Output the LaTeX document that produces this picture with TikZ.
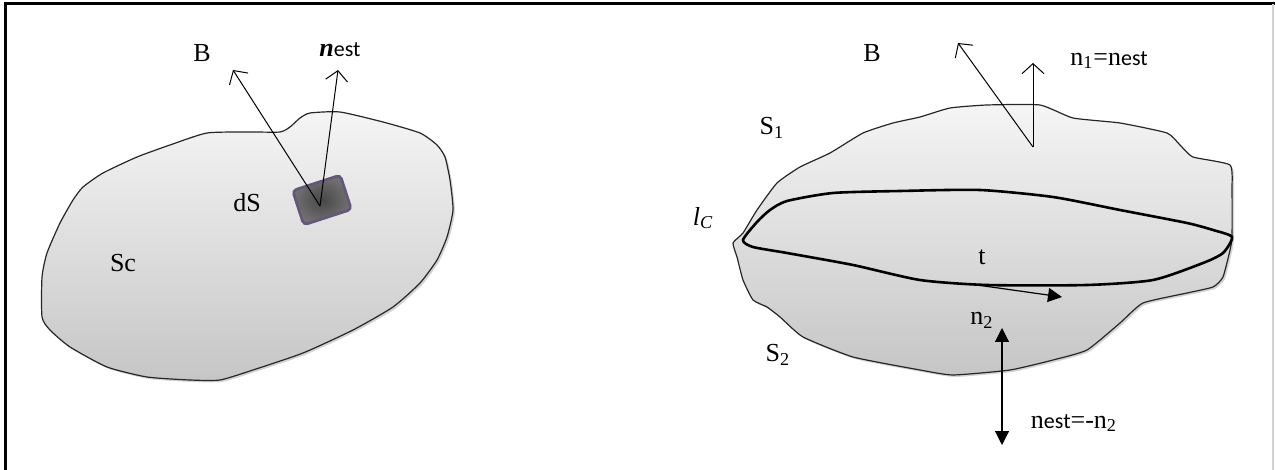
\documentclass[tikz,border=0pt]{standalone}
\usepackage{fontspec}
\setmainfont{Liberation Serif}
\setsansfont{Carlito}
\usepackage{tikz}
\usetikzlibrary{arrows.meta,shadows}
\definecolor{patchrim}{RGB}{100,88,122}
\newcommand{\estsub}{{\sffamily\fontsize{11}{13}\selectfont est}}

\begin{document}
\begin{tikzpicture}[x=0.5pt,y=-0.5pt,
  blob/.style={draw=black!85,line width=0.6pt,top color=gray!8,bottom color=gray!45,
    drop shadow={opacity=0.35,shadow xshift=1pt,shadow yshift=-1pt}},
  rim/.style={draw=black,line width=1.3pt},
  patch/.style={rectangle,rotate=18,minimum width=25pt,minimum height=18pt,rounded corners=2pt,
    inner color=black!72,outer color=black!55,draw=patchrim,line width=1.4pt},
  ar/.style={-{Straight Barb[length=5pt,width=11pt]},line width=0.5pt},
  fa/.style={-{Triangle[length=7pt,width=7pt]},line width=0.6pt},
  fab/.style={{Triangle[length=7pt,width=7pt]}-{Triangle[length=7pt,width=7pt]},line width=0.6pt},
  lb/.style={font=\fontsize{13}{15}\selectfont}]
  \useasboundingbox (0,0) rectangle (1275,470);
  % frame
  \draw[line width=1.5pt] (5,470) -- (5,4) -- (1275,4);
  \draw[gray!35,line width=0.6pt] (1273,4) -- (1273,470);

  % left surface Sc
  \draw[blob] plot[smooth cycle,tension=0.35] coordinates {
    (207,133) (250,132) (280,132) (290,127) (300,118) (310,113) (340,112) (383,122)
    (420,133) (437,145) (445,157) (450,180) (453,210) (447,237) (437,260) (420,283)
    (393,307) (353,330) (303,353) (253,370) (220,380) (190,380) (147,377) (107,367)
    (70,347) (50,330) (42,317) (42,277) (47,253) (60,223) (73,200) (83,187)
    (103,173) (137,157) (170,145)};
  \node[patch] (dSp) at (322,200) {};
  \coordinate (base1) at (320,206);
  \coordinate (tipB1) at (233,70);
  \coordinate (tipN1) at (338,70);
  \draw[ar] (base1) -- (tipB1);
  \draw[ar] (base1) -- (tipN1);
  \node[lb] (lB1) at (202,53) {B};
  \node[lb] (lN1) at (340,50) {\textbf{\textit{n}}\estsub};
  \node[lb] (ldS) at (247,203) {dS};
  \node[lb] (lSc) at (123,263) {Sc};

  % right surface S1 + S2
  \draw[blob] plot[smooth cycle,tension=0.3] coordinates {
    (950,108) (987,105) (1040,105) (1073,118) (1120,123) (1167,133) (1180,145) (1193,157)
    (1230,165) (1232,190) (1232,237) (1230,250) (1223,277) (1213,287) (1187,293) (1143,303)
    (1120,323) (1087,350) (1053,360) (1010,370) (953,375) (920,370) (853,357) (803,337)
    (780,317) (767,307) (753,300) (743,280) (737,257) (733,243) (743,233) (757,210)
    (777,183) (800,167) (830,153) (863,133) (893,123) (920,117)};
  \draw[rim] plot[smooth cycle,tension=0.4] coordinates {
    (743,240) (757,222) (770,210) (787,201) (833,193) (900,191) (980,190) (1053,197)
    (1120,210) (1187,223) (1213,230) (1232,237) (1223,253) (1203,263) (1153,280)
    (1087,285) (987,285) (920,280) (853,265) (787,253) (753,247)};
  \coordinate (base2) at (1033,147);
  \coordinate (tipB2) at (958,43);
  \coordinate (tipN2) at (1033,63);
  \draw[ar] (base2) -- (tipB2);
  \draw[ar] (base2) -- (tipN2);
  \coordinate (tS) at (977,285);
  \coordinate (tE) at (1062,297);
  \draw[fa] (tS) -- (tE);
  \coordinate (n2a) at (1002,328);
  \coordinate (n2b) at (1002,445);
  \draw[fab] (n2a) -- (n2b);
  \node[lb] (lB2) at (872,53) {B};
  \node[lb] (ln1) at (1109,60) {n\textsubscript{1}=n\estsub};
  \node[lb] (lS1) at (772,128) {S\textsubscript{1}};
  \node[lb] (llc) at (703,218) {\itshape l\textsubscript{C}};
  \node[lb] (lt) at (982,257) {t};
  \node[lb] (ln2) at (982,320) {n\textsubscript{2}};
  \node[lb] (lS2) at (778,355) {S\textsubscript{2}};
  \node[lb] (lnn) at (1074,423) {n\estsub=-n\textsubscript{2}};
\end{tikzpicture}
\end{document}
